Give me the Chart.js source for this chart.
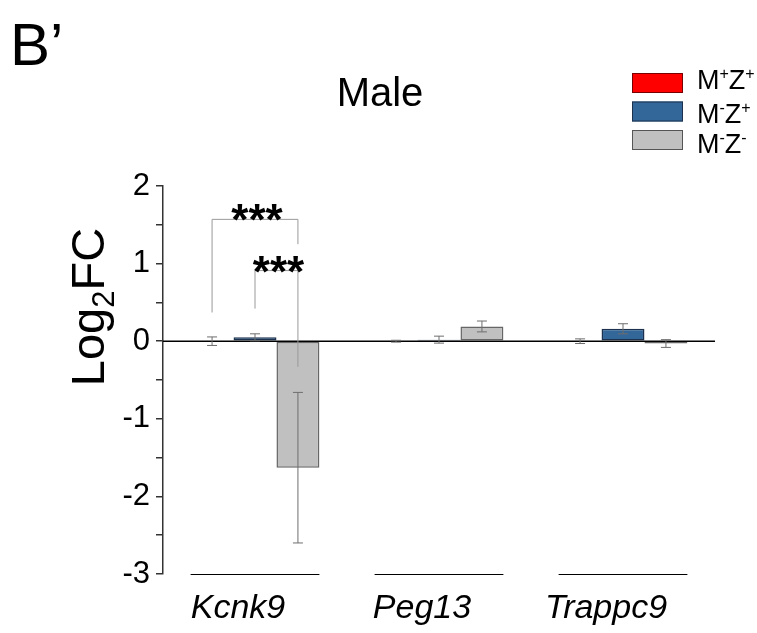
<!DOCTYPE html>
<html>
<head>
<meta charset="utf-8">
<script src="https://cdn.jsdelivr.net/npm/chart.js@4.4.1/dist/chart.umd.min.js"></script>
<style>
  body { margin: 0; background: #fff; }
  #wrap { width: 757px; height: 633px; position: relative; }
</style>
</head>
<body>
<div id="wrap"><canvas id="chart"></canvas></div>
<script>
// Données (Log2FC, mâles)
const categories = ['Kcnk9', 'Peg13', 'Trappc9'];
const seriesNames = ['M+Z+', 'M-Z+', 'M-Z-'];
const seriesColors = ['#ff0000', '#336699', '#c0c0c0'];
const seriesBorders = ['#8b0000', '#1c314d', '#666666'];

const valuesMpZp = [0, 0, 0];
const valuesMmZp = [0.05, 0.02, 0.16];
const valuesMmZm = [-1.63, 0.19, -0.03];

const errMpZp = [0.055, 0.012, 0.03];
const errMmZp = [0.045, 0.045, 0.065];
const errMmZm = [0.97, 0.07, 0.05];

const yTicks = [-3, -2, -1, 0, 1, 2];

// crochets de significativité : catégorie, séries, hauteurs (unités de l'axe y)
const sigCategory = [0, 0];
const sigFrom = [0, 1];
const sigTo = [2, 2];
const sigTop = [1.57, 0.91];
const sigLeftEnd = [0.37, 0.42];
const sigRightEnd = [1.25, -0.33];
const sigLabel = ['***', '***'];

const allErrors = [errMpZp, errMmZp, errMmZm];
const FONT = 'Arial, "Liberation Sans"';

function drawSupText(ctx, text, x, y, size) {
    // dessine "M+Z+" avec les signes en exposant
    let cx = x;
    for (const ch of text) {
        if (ch === '+' || ch === '-') {
            ctx.font = `${Math.round(size * 0.6)}px ${FONT}`;
            ctx.fillText(ch, cx, y - size * 0.36);
            cx += ctx.measureText(ch).width;
        } else {
            ctx.font = `${size}px ${FONT}`;
            ctx.fillText(ch, cx, y);
            cx += ctx.measureText(ch).width;
        }
    }
}

const decorPlugin = {
    id: 'decor',
    afterDatasetsDraw(chart) {
        const ctx = chart.ctx;
        const area = chart.chartArea;
        const y = chart.scales.y;

        // ligne du zéro
        ctx.save();
        ctx.strokeStyle = '#000';
        ctx.lineWidth = 1.5;
        ctx.beginPath();
        ctx.moveTo(area.left, y.getPixelForValue(0));
        ctx.lineTo(area.right, y.getPixelForValue(0));
        ctx.stroke();

        // barres d'erreur
        ctx.strokeStyle = '#6e6e6e';
        ctx.lineWidth = 1;
        chart.data.datasets.forEach((ds, di) => {
            const meta = chart.getDatasetMeta(di);
            meta.data.forEach((bar, i) => {
                const v = ds.data[i];
                const e = allErrors[di][i];
                const yTop = y.getPixelForValue(v + e);
                const yBot = y.getPixelForValue(v - e);
                ctx.beginPath();
                ctx.moveTo(bar.x, yTop);
                ctx.lineTo(bar.x, yBot);
                ctx.moveTo(bar.x - 5, yTop);
                ctx.lineTo(bar.x + 5, yTop);
                ctx.moveTo(bar.x - 5, yBot);
                ctx.lineTo(bar.x + 5, yBot);
                ctx.stroke();
            });
        });

        // soulignement des groupes
        ctx.strokeStyle = '#000';
        ctx.lineWidth = 1;
        const first = chart.getDatasetMeta(0).data;
        const last = chart.getDatasetMeta(2).data;
        categories.forEach((c, i) => {
            const x0 = first[i].x - first[i].width / 2;
            const x1 = last[i].x + last[i].width / 2;
            ctx.beginPath();
            ctx.moveTo(x0, area.bottom + 0.5);
            ctx.lineTo(x1, area.bottom + 0.5);
            ctx.stroke();
        });

        // crochets ***
        sigCategory.forEach((cat, k) => {
            const xa = chart.getDatasetMeta(sigFrom[k]).data[cat].x;
            const xb = chart.getDatasetMeta(sigTo[k]).data[cat].x;
            const yt = y.getPixelForValue(sigTop[k]);
            ctx.strokeStyle = '#999';
            ctx.lineWidth = 1;
            ctx.beginPath();
            ctx.moveTo(xa, y.getPixelForValue(sigLeftEnd[k]));
            ctx.lineTo(xa, yt);
            ctx.lineTo(xb, yt);
            ctx.lineTo(xb, y.getPixelForValue(sigRightEnd[k]));
            ctx.stroke();
            ctx.fillStyle = '#000';
            ctx.font = `bold 44px ${FONT}`;
            ctx.textAlign = 'center';
            ctx.textBaseline = 'alphabetic';
            ctx.fillText(sigLabel[k], (xa + xb) / 2 + 2, yt + 16);
        });

        // titre
        ctx.fillStyle = '#000';
        ctx.textAlign = 'center';
        ctx.textBaseline = 'middle';
        ctx.font = `40px ${FONT}`;
        ctx.fillText('Male', 380, 95);

        // lettre du panneau
        ctx.textAlign = 'left';
        ctx.textBaseline = 'alphabetic';
        ctx.font = `60px ${FONT}`;
        ctx.fillText('B\u2019', 10, 65);

        // titre de l'axe y : Log2FC avec indice
        ctx.save();
        ctx.translate(104, 307);
        ctx.rotate(-Math.PI / 2);
        ctx.textBaseline = 'alphabetic';
        ctx.textAlign = 'left';
        const big = `47px ${FONT}`;
        const small = `31px ${FONT}`;
        ctx.font = big;
        const w1 = ctx.measureText('Log').width;
        const w3 = ctx.measureText('FC').width;
        ctx.font = small;
        const w2 = ctx.measureText('2').width;
        let sx = -(w1 + w2 + w3) / 2;
        ctx.font = big;
        ctx.fillText('Log', sx, 0);
        sx += w1;
        ctx.font = small;
        ctx.fillText('2', sx, 10);
        sx += w2;
        ctx.font = big;
        ctx.fillText('FC', sx, 0);
        ctx.restore();

        // légende
        const legendBase = [89, 123, 153];
        seriesNames.forEach((name, i) => {
            const top = 73 + i * 28.5;
            ctx.fillStyle = seriesColors[i];
            ctx.fillRect(632, top, 51, 20);
            ctx.strokeStyle = i === 0 ? '#7a0000' : (i === 1 ? '#1c314d' : '#555');
            ctx.lineWidth = 1;
            ctx.strokeRect(632.5, top + 0.5, 50, 19);
            ctx.fillStyle = '#000';
            ctx.textAlign = 'left';
            ctx.textBaseline = 'alphabetic';
            drawSupText(ctx, name, 697, legendBase[i], 27);
        });
        ctx.restore();
    }
};

new Chart(document.getElementById('chart').getContext('2d'), {
    type: 'bar',
    data: {
        labels: categories,
        datasets: [
            { label: seriesNames[0], data: valuesMpZp },
            { label: seriesNames[1], data: valuesMmZp },
            { label: seriesNames[2], data: valuesMmZm }
        ].map((ds, i) => Object.assign(ds, {
            backgroundColor: seriesColors[i],
            borderColor: seriesBorders[i],
            borderWidth: 1.5,
            borderSkipped: false,
            categoryPercentage: 0.7,
            barPercentage: 1.0
        }))
    },
    options: {
        responsive: true,
        maintainAspectRatio: false,
        animation: false,
        layout: { padding: { left: 0, right: 42, top: 186, bottom: 0 } },
        plugins: {
            legend: { display: false },
            title: { display: false },
            tooltip: { enabled: false }
        },
        scales: {
            x: {
                grid: { display: false, drawTicks: false },
                border: { display: false },
                ticks: {
                    color: '#000',
                    padding: 14,
                    labelOffset: -17,
                    font: { family: FONT, size: 34, style: 'italic' }
                },
                afterFit(scale) { scale.height = 59; }
            },
            y: {
                min: -3,
                max: 2,
                border: { display: true, color: '#333', width: 1.5 },
                grid: { display: true, drawOnChartArea: false, drawTicks: true, tickLength: 7, color: '#333', lineWidth: 1.5 },
                ticks: {
                    stepSize: 0.5,
                    autoSkip: false,
                    padding: 6,
                    color: '#000',
                    font: { family: FONT, size: 31 },
                    callback: v => yTicks.includes(v) ? String(v) : ''
                },
                afterFit(scale) { scale.width = 163; }
            }
        }
    },
    plugins: [decorPlugin]
});
</script>
</body>
</html>
